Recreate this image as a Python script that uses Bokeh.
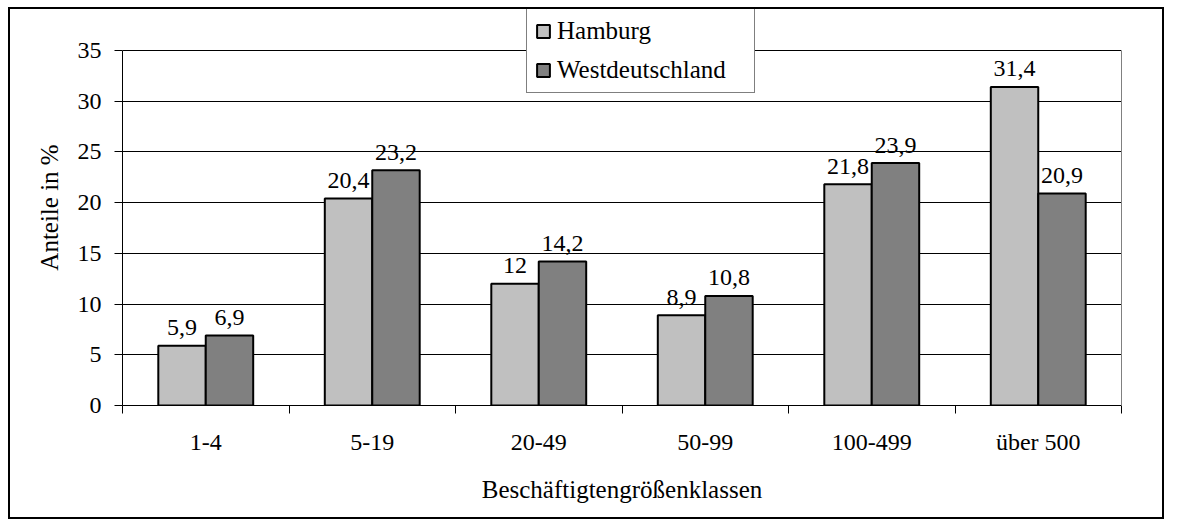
from bokeh.plotting import figure
from bokeh.models import ColumnDataSource, FixedTicker, Range1d, Legend, LegendItem, LinearAxis
from bokeh.embed import file_html
from bokeh.resources import INLINE
from bokeh.core.properties import value

categories = ["1-4", "5-19", "20-49", "50-99", "100-499", "über 500"]
hamburg = [5.9, 20.4, 12.0, 8.9, 21.8, 31.4]
westdeutschland = [6.9, 23.2, 14.2, 10.8, 23.9, 20.9]
hamburg_labels = ["5,9", "20,4", "12", "8,9", "21,8", "31,4"]
west_labels = ["6,9", "23,2", "14,2", "10,8", "23,9", "20,9"]
y_ticks = [0, 5, 10, 15, 20, 25, 30, 35]

FONT = "'Liberation Serif', 'Times New Roman', serif"
BAR_W = 0.285
n = len(categories)
idx = list(range(n))

src_h = ColumnDataSource(dict(x=[i + 0.5 - BAR_W / 2 for i in idx], top=hamburg, lab=hamburg_labels))
src_w = ColumnDataSource(dict(x=[i + 0.5 + BAR_W / 2 for i in idx], top=westdeutschland, lab=west_labels))

# frame spans 0..35 over 355px; extra headroom above lets the legend overlap the top
p = figure(width=1156, height=512, output_backend="svg", toolbar_location=None,
           x_range=Range1d(0, n), y_range=Range1d(0, 39.04),
           min_border_left=112, min_border_right=45, min_border_top=0, min_border_bottom=116,
           styles={"border": "2px solid black", "margin": "7px 0 0 8px"})
p.background_fill_color = "white"
p.border_fill_color = "white"
p.outline_line_color = None

rh = p.vbar(x="x", top="top", width=BAR_W, source=src_h, fill_color="#C0C0C0",
            line_color="black", line_width=2)
rw = p.vbar(x="x", top="top", width=BAR_W, source=src_w, fill_color="#808080",
            line_color="black", line_width=2)

for s in (src_h, src_w):
    p.text(x="x", y="top", text="lab", source=s, text_align="center", text_baseline="alphabetic",
           y_offset=-18, text_font=value(FONT), text_font_size="24px", text_color="black")

# x axis
xa = p.xaxis[0]
xa.ticker = FixedTicker(ticks=[i + 0.5 for i in idx], minor_ticks=list(range(n + 1)))
xa.major_label_overrides = {i + 0.5: c for i, c in zip(idx, categories)}
xa.major_tick_line_color = None
xa.major_tick_out = 0
xa.major_tick_in = 0
xa.minor_tick_line_color = "black"
xa.minor_tick_out = 8
xa.minor_tick_in = 0
xa.major_label_standoff = 15
xa.major_label_text_font = FONT
xa.major_label_text_font_size = "24px"
xa.major_label_text_color = "black"
xa.axis_line_color = "black"
xa.axis_line_width = 1
xa.axis_label = "Beschäftigtengrößenklassen"
xa.axis_label_text_font = FONT
xa.axis_label_text_font_size = "25px"
xa.axis_label_text_font_style = "normal"
xa.axis_label_text_color = "black"
xa.axis_label_standoff = 18

# y axis
ya = p.yaxis[0]
ya.ticker = FixedTicker(ticks=y_ticks)
ya.bounds = (0, 35)
ya.minor_tick_line_color = None
ya.major_tick_out = 8
ya.major_tick_in = 0
ya.major_tick_line_color = "black"
ya.major_label_standoff = 13
ya.major_label_text_font = FONT
ya.major_label_text_font_size = "24px"
ya.major_label_text_color = "black"
ya.axis_line_color = "black"
ya.axis_label = "Anteile in %"
ya.axis_label_text_font = FONT
ya.axis_label_text_font_size = "25px"
ya.axis_label_text_font_style = "normal"
ya.axis_label_text_color = "black"
ya.axis_label_standoff = 12

# grey right edge of the plot area
ra = LinearAxis(ticker=FixedTicker(ticks=[]), bounds=(0, 35), axis_line_color="#808080",
                major_tick_line_color=None, minor_tick_line_color=None,
                major_label_text_color=None)
p.add_layout(ra, "right")

p.xgrid.grid_line_color = None
p.ygrid.grid_line_color = "black"
p.ygrid.grid_line_width = 1
p.ygrid.ticker = FixedTicker(ticks=y_ticks)

legend = Legend(items=[LegendItem(label="Hamburg", renderers=[rh]),
                       LegendItem(label="Westdeutschland", renderers=[rw])],
                location=(404, 312), orientation="vertical",
                border_line_color="black", border_line_width=1,
                background_fill_color="white", background_fill_alpha=1.0,
                label_text_font=FONT, label_text_font_size="25px", label_text_color="black",
                glyph_width=16, glyph_height=16, label_standoff=6, label_width=189,
                label_height=28, spacing=11, padding=8, margin=0)
p.add_layout(legend, "center")

open("out.html", "w").write(file_html(p, INLINE))
